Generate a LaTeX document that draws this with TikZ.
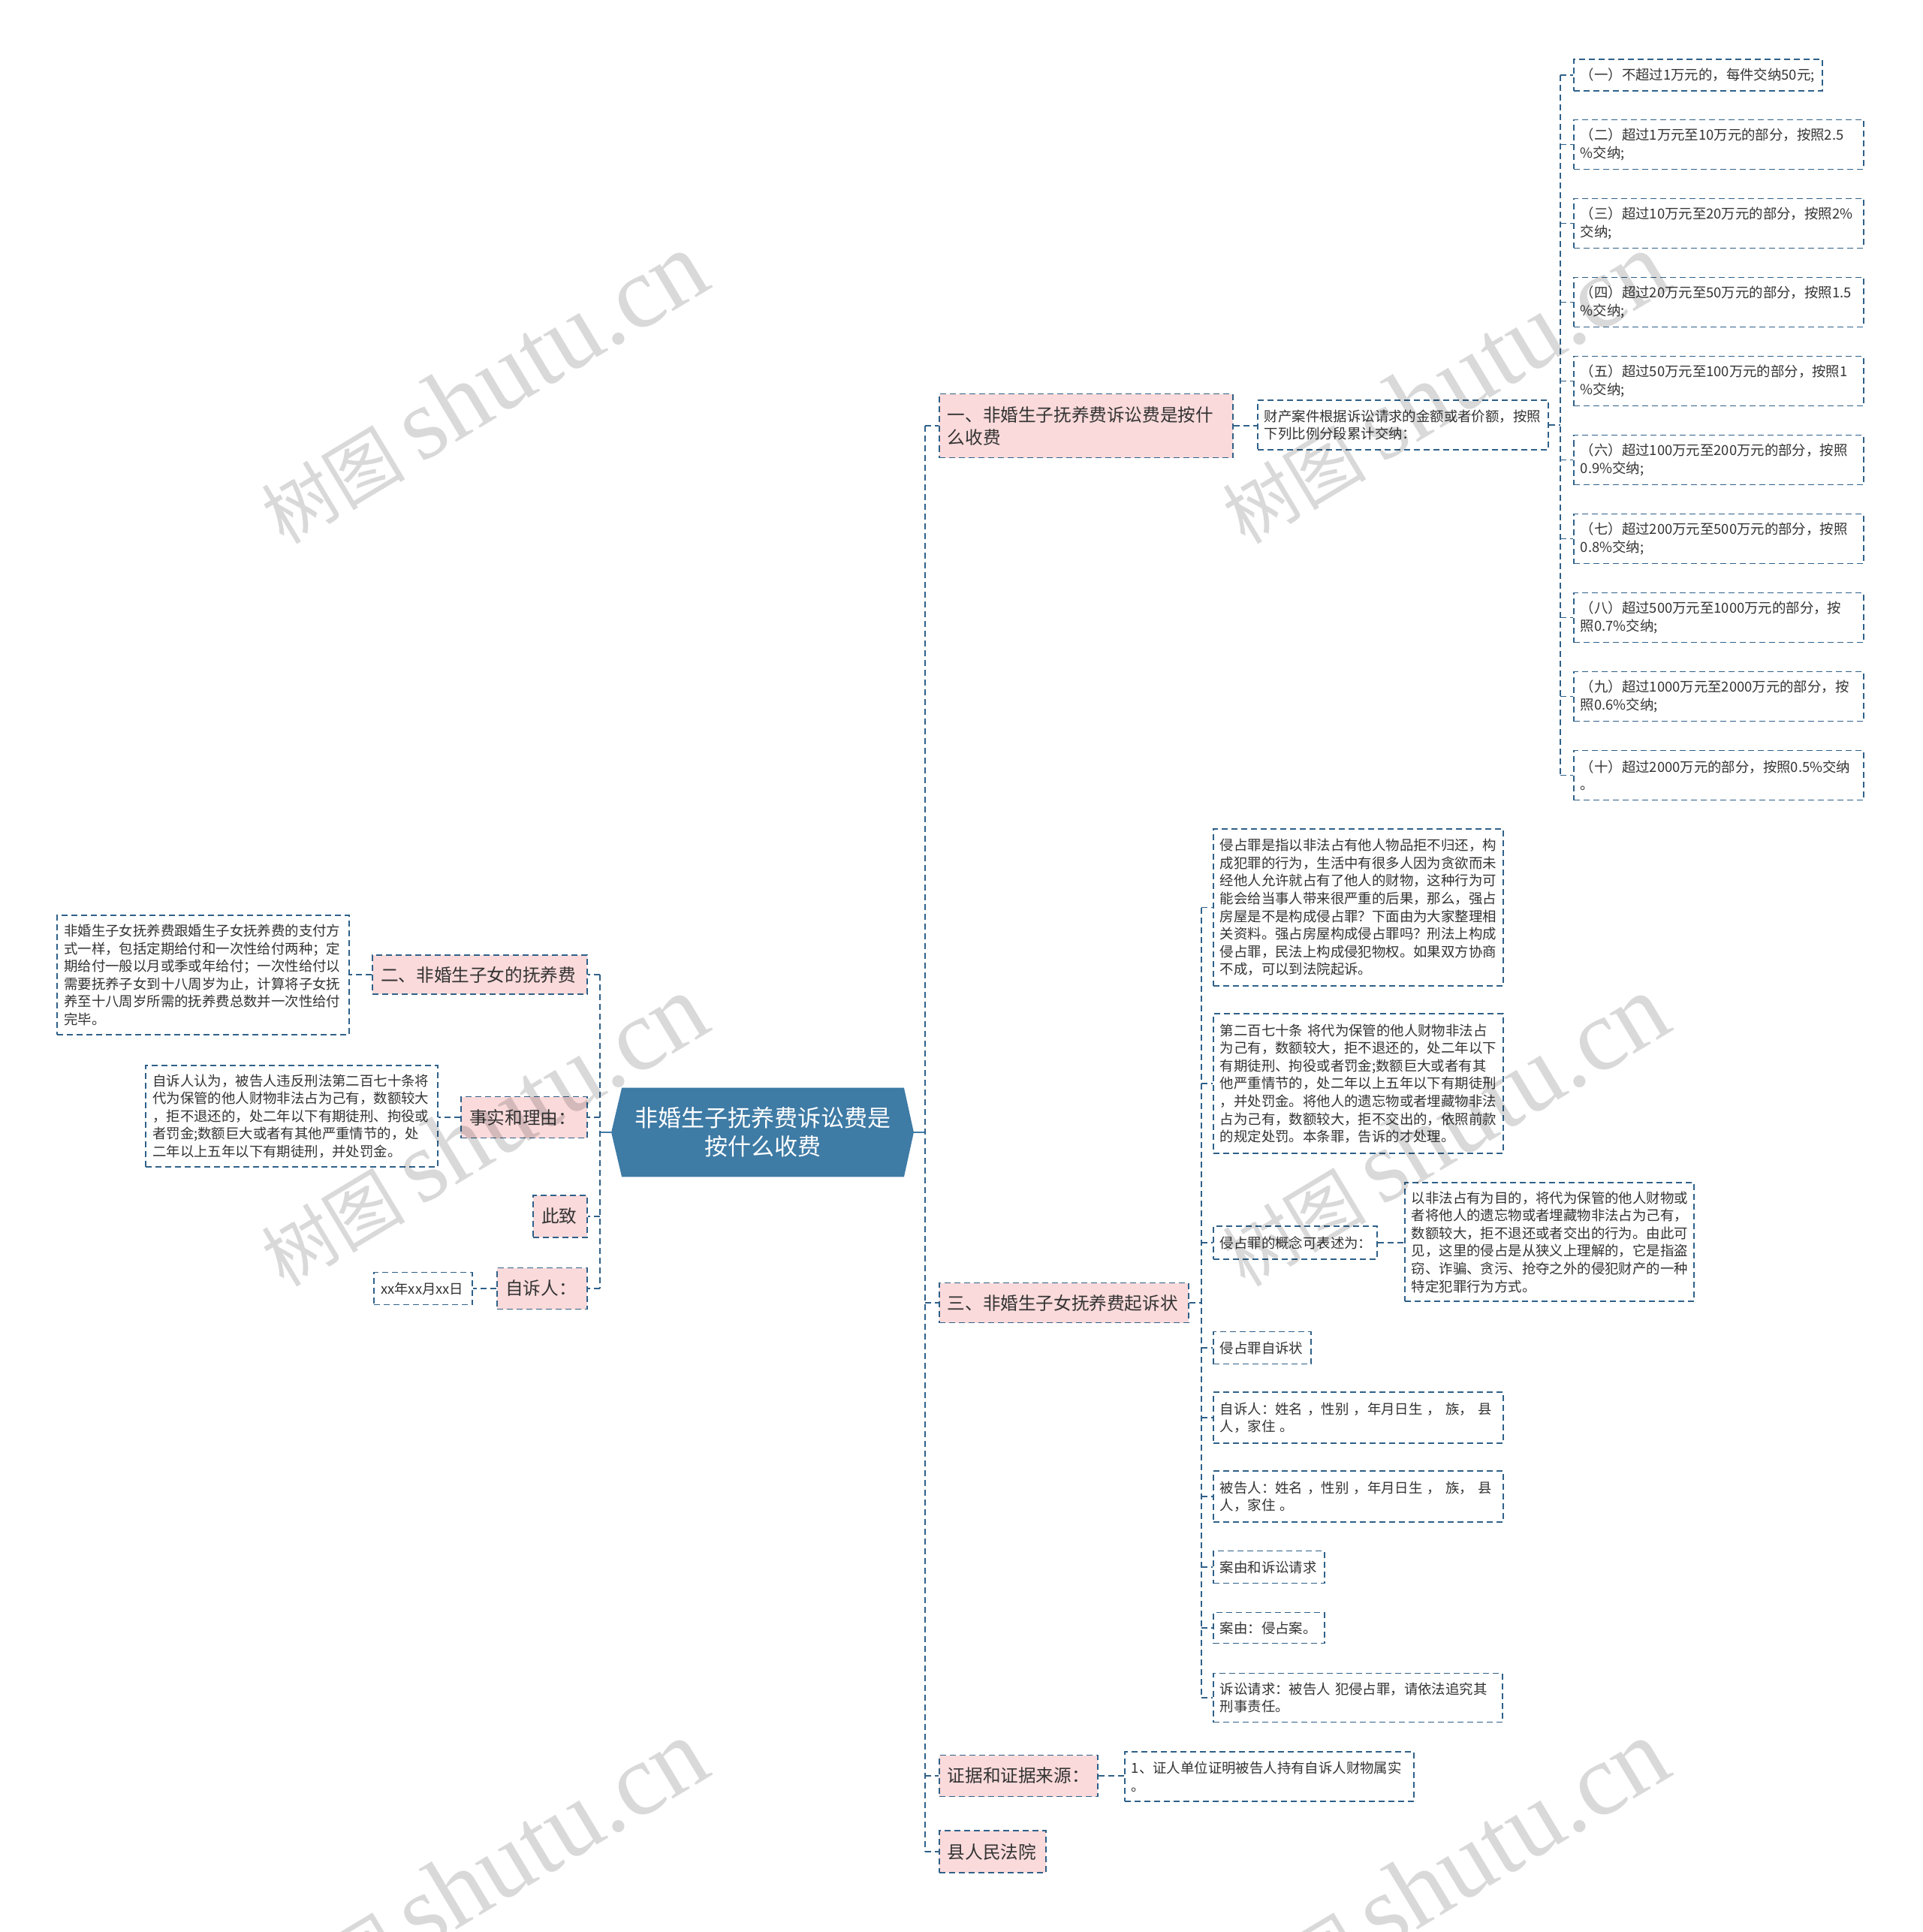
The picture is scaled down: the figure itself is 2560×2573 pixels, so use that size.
\documentclass[tikz,border=0pt]{standalone}
\usepackage{fontspec}
\setmainfont{Noto Sans CJK SC}
\newfontfamily\wmlatin{Liberation Serif}
\usetikzlibrary{calc}
\definecolor{lineC}{HTML}{2F6088}
\definecolor{hexC}{HTML}{3E7BA5}
\definecolor{pinkC}{HTML}{FADADB}
\definecolor{txtC}{HTML}{333333}
\pgfdeclarelayer{bg}
\pgfsetlayers{bg,main}
\tikzset{
  box/.style={draw=lineC, line width=0.8pt, dash pattern=on 4pt off 2.5pt, text=txtC, align=left, anchor=west, inner ysep=0pt, inner xsep=4.5pt},
  leaf/.style={box, fill=white, font=\fontsize{9.2}{11.8}\selectfont},
  topic/.style={box, fill=pinkC, font=\fontsize{11.8}{15}\selectfont, inner xsep=5.5pt},
  conn/.style={draw=lineC, line width=0.8pt, dash pattern=on 4pt off 2.5pt},
  wm/.style={text=black, opacity=0.15, rotate=31, inner sep=0pt}
}
\newcommand{\wmtext}{{\fontsize{48}{48}\selectfont 树图}\hspace{10pt}{\wmlatin\fontsize{68}{68}\selectfont shutu.cn}}
\begin{document}
\begin{tikzpicture}[x=0.5pt,y=-0.5pt]
\useasboundingbox (0,0) rectangle (2560,2573);

% central node
\node[inner sep=0pt, minimum width=187.5pt, minimum height=59pt, text=white, align=center,
      font=\fontsize{15.5}{19}\selectfont] (ctr) at (1016,1508) {非婚生子抚养费诉讼费是\\按什么收费};
\coordinate (ctrR) at ($(ctr.east)+(13,0)$);
\coordinate (ctrL) at ($(ctr.west)+(-14,0)$);
\begin{pgfonlayer}{bg}
\fill[white] (0,0) rectangle (2560,2573);
\fill[hexC] (ctr.north west) -- (ctr.north east) -- (ctrR) -- (ctr.south east) -- (ctr.south west) -- (ctrL) -- cycle;
\end{pgfonlayer}
\coordinate (jR) at (1232,1508);
\coordinate (jL) at (799,1508);
\draw[hexC, line width=1.4pt] (ctrR) -- (jR);
\draw[hexC, line width=1.4pt] (ctrL) -- (jL);

% right topics
\node[topic, text width=184.5pt, minimum height=42.5pt] (A1) at (1250,567) {一、非婚生子抚养费诉讼费是按什\\么收费};
\node[topic, text width=155pt, minimum height=26.5pt] (A3) at (1250,1735) {三、非婚生子女抚养费起诉状};
\node[topic, text width=94.5pt, minimum height=27.5pt] (A4) at (1250,2365) {证据和证据来源：};
\node[topic, text width=60pt, minimum height=28pt] (A5) at (1250,2466) {县人民法院};

% left topics
\node[topic, anchor=east, text width=132pt, minimum height=26pt] (B1) at (783,1298) {二、非婚生子女的抚养费};
\node[topic, anchor=east, text width=73pt, minimum height=27.5pt] (B2) at (783,1488) {事实和理由：};
\node[topic, anchor=east, text width=25pt, minimum height=28pt] (B3) at (783,1620) {此致};
\node[topic, anchor=east, text width=49pt, minimum height=27.5pt] (B4) at (783,1716) {自诉人：};

% trunks
\draw[conn] (jR |- A1.west) -- (jR |- A5.west);
\foreach \n in {A1,A3,A4,A5} \draw[conn] (jR |- \n.west) -- (\n.west);
\draw[conn] (jL |- B1.east) -- (jL |- B4.east);
\foreach \n in {B1,B2,B3,B4} \draw[conn] (jL |- \n.east) -- (\n.east);

% branch 1
\node[leaf, text width=184.5pt, minimum height=33pt] (R1) at (1674,566) {财产案件根据诉讼请求的金额或者价额，按照\\下列比例分段累计交纳：};
\draw[conn] (A1.east) -- (A1.east -| R1.west);
\coordinate (jQ) at (2078,566);
\node[leaf, text width=156.5pt, minimum height=21pt] (Q1) at (2095,100) {（一）不超过1万元的，每件交纳50元;};
\node[leaf, text width=184pt, minimum height=33pt] (Q2) at (2095,192.5) {（二）超过1万元至10万元的部分，按照2.5\\\%交纳;};
\node[leaf, text width=184pt, minimum height=33pt] (Q3) at (2095,297.5) {（三）超过10万元至20万元的部分，按照2\%\\交纳;};
\node[leaf, text width=184pt, minimum height=33pt] (Q4) at (2095,402.5) {（四）超过20万元至50万元的部分，按照1.5\\\%交纳;};
\node[leaf, text width=184pt, minimum height=33pt] (Q5) at (2095,507.5) {（五）超过50万元至100万元的部分，按照1\\\%交纳;};
\node[leaf, text width=184pt, minimum height=33pt] (Q6) at (2095,612.5) {（六）超过100万元至200万元的部分，按照\\0.9\%交纳;};
\node[leaf, text width=184pt, minimum height=33pt] (Q7) at (2095,717.5) {（七）超过200万元至500万元的部分，按照\\0.8\%交纳;};
\node[leaf, text width=184pt, minimum height=33pt] (Q8) at (2095,822.5) {（八）超过500万元至1000万元的部分，按\\照0.7\%交纳;};
\node[leaf, text width=184pt, minimum height=33pt] (Q9) at (2095,927.5) {（九）超过1000万元至2000万元的部分，按\\照0.6\%交纳;};
\node[leaf, text width=184pt, minimum height=33pt] (Q10) at (2095,1032.5) {（十）超过2000万元的部分，按照0.5\%交纳\\。};
\draw[conn] (R1.east) -- (jQ);
\draw[conn] (jQ |- Q1.west) -- (jQ |- Q10.west);
\foreach \n in {Q1,Q2,Q3,Q4,Q5,Q6,Q7,Q8,Q9,Q10} \draw[conn] (jQ |- \n.west) -- (\n.west);

% branch 3
\coordinate (jC) at (1600,1735);
\node[leaf, text width=184pt, minimum height=104.5pt] (C1) at (1615,1208.5) {侵占罪是指以非法占有他人物品拒不归还，构\\成犯罪的行为，生活中有很多人因为贪欲而未\\经他人允许就占有了他人的财物，这种行为可\\能会给当事人带来很严重的后果，那么，强占\\房屋是不是构成侵占罪？下面由为大家整理相\\关资料。强占房屋构成侵占罪吗？刑法上构成\\侵占罪，民法上构成侵犯物权。如果双方协商\\不成，可以到法院起诉。};
\node[leaf, text width=184pt, minimum height=93pt] (C2) at (1615,1443) {第二百七十条 将代为保管的他人财物非法占\\为己有，数额较大，拒不退还的，处二年以下\\有期徒刑、拘役或者罚金;数额巨大或者有其\\他严重情节的，处二年以上五年以下有期徒刑\\，并处罚金。将他人的遗忘物或者埋藏物非法\\占为己有，数额较大，拒不交出的，依照前款\\的规定处罚。本条罪，告诉的才处理。};
\node[leaf, text width=100pt, minimum height=22pt] (C3) at (1615,1655) {侵占罪的概念可表述为：};
\node[leaf, text width=183.5pt, minimum height=79pt] (C3a) at (1870,1654) {以非法占有为目的，将代为保管的他人财物或\\者将他人的遗忘物或者埋藏物非法占为己有，\\数额较大，拒不退还或者交出的行为。由此可\\见，这里的侵占是从狭义上理解的，它是指盗\\窃、诈骗、贪污、抢夺之外的侵犯财产的一种\\特定犯罪行为方式。};
\node[leaf, text width=56pt, minimum height=21.5pt] (C4) at (1615,1795) {侵占罪自诉状};
\node[leaf, text width=184pt, minimum height=34pt] (C5) at (1615,1888) {自诉人：姓名 ，性别 ，年月日生 ， 族， 县\\人，家住 。};
\node[leaf, text width=184pt, minimum height=34pt] (C6) at (1615,1993) {被告人：姓名 ，性别 ，年月日生 ， 族， 县\\人，家住 。};
\node[leaf, text width=65pt, minimum height=21.5pt] (C7) at (1615,2087) {案由和诉讼请求};
\node[leaf, text width=65pt, minimum height=20.5pt] (C8) at (1615,2168) {案由：侵占案。};
\node[leaf, text width=183.5pt, minimum height=32.5pt] (C9) at (1615,2261) {诉讼请求：被告人 犯侵占罪，请依法追究其\\刑事责任。};
\draw[conn] (A3.east) -- (jC);
\draw[conn] (jC |- C1.west) -- (jC |- C9.west);
\foreach \n in {C1,C2,C3,C4,C5,C6,C7,C8,C9} \draw[conn] (jC |- \n.west) -- (\n.west);
\draw[conn] (C3.east) -- (C3.east -| C3a.west);

% branch 4
\node[leaf, text width=183.5pt, minimum height=33pt] (D1) at (1497,2366) {1、证人单位证明被告人持有自诉人财物属实\\。};
\draw[conn] (A4.east) -- (A4.east -| D1.west);

% left leaves
\node[leaf, anchor=east, text width=185.5pt, minimum height=79.5pt] (L1) at (466,1298.5) {非婚生子女抚养费跟婚生子女抚养费的支付方\\式一样，包括定期给付和一次性给付两种；定\\期给付一般以月或季或年给付；一次性给付以\\需要抚养子女到十八周岁为止，计算将子女抚\\养至十八周岁所需的抚养费总数并一次性给付\\完毕。};
\node[leaf, anchor=east, text width=185.5pt, minimum height=67.5pt] (L2) at (584,1486.5) {自诉人认为，被告人违反刑法第二百七十条将\\代为保管的他人财物非法占为己有，数额较大\\，拒不退还的，处二年以下有期徒刑、拘役或\\者罚金;数额巨大或者有其他严重情节的，处\\二年以上五年以下有期徒刑，并处罚金。};
\node[leaf, anchor=east, text width=56.5pt, minimum height=21.5pt] (L3) at (630,1716) {xx年xx月xx日};
\draw[conn] (B1.west) -- (B1.west -| L1.east);
\draw[conn] (B2.west) -- (B2.west -| L2.east);
\draw[conn] (B4.west) -- (B4.west -| L3.east);

% watermarks
\node[wm] (w1) at (643,517) {\wmtext};
\node[wm] (w2) at (1923,517) {\wmtext};
\node[wm] (w3) at (643,1506) {\wmtext};
\node[wm] (w4) at (1923,1506) {\wmtext};
\node[wm] (w5) at (643,2498) {\wmtext};
\node[wm] (w6) at (1923,2498) {\wmtext};
\end{tikzpicture}
\end{document}
